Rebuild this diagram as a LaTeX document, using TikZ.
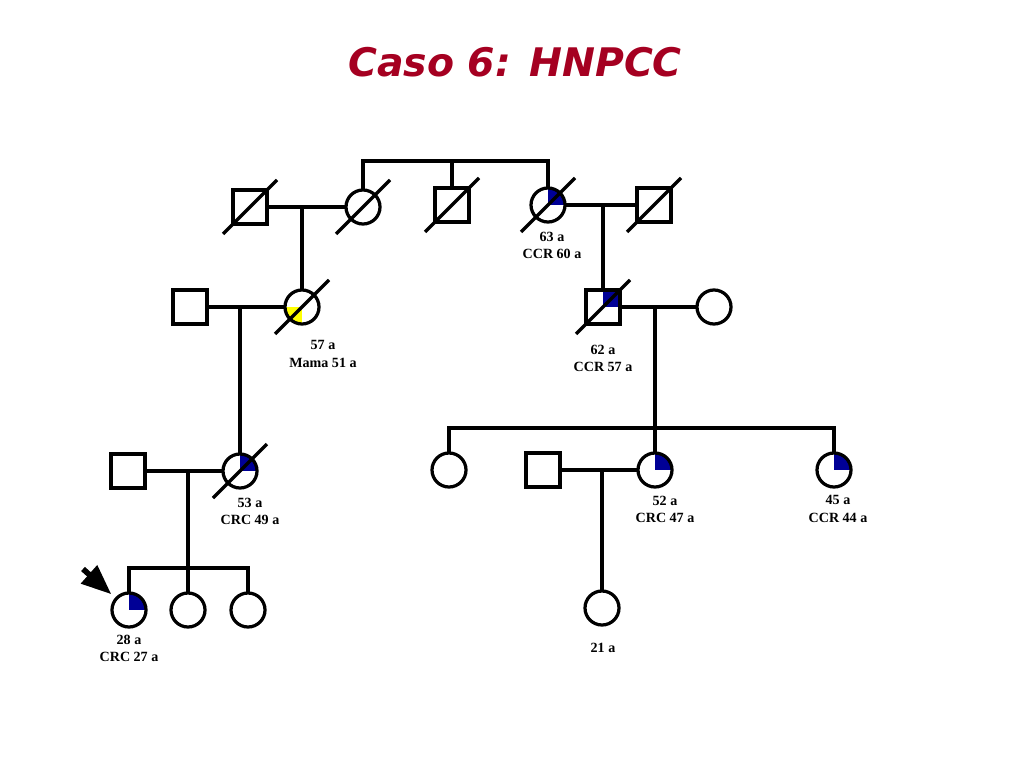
\documentclass[tikz,border=0pt]{standalone}
\usepackage{fontspec}
\setmainfont{Liberation Serif}
\newfontfamily\titlefont{DejaVu Sans}
\usetikzlibrary{arrows}
\definecolor{titlered}{RGB}{165,0,33}
\definecolor{ccrblue}{RGB}{0,0,150}
\definecolor{mamayellow}{RGB}{255,255,0}

\begin{document}
\begin{tikzpicture}
  [x=0.025cm,y=-0.025cm,line width=2.3pt,
   every node/.style={inner sep=0pt,outer sep=0pt},
   male/.style={rectangle,draw,minimum size=0.85cm},
   female/.style={circle,draw,minimum size=0.85cm},
   affected/.style={path picture={\fill[ccrblue] (path picture bounding box.center) rectangle (path picture bounding box.north east);}},
   mama/.style={path picture={\fill[mamayellow] (path picture bounding box.center) rectangle (path picture bounding box.south west);}},
   lbl/.style={align=center,font=\bfseries\fontsize{10}{12.2}\selectfont}]
  \fill[white] (0,0) rectangle (1024,768);
  \useasboundingbox (0,0) rectangle (1024,768);

  \node[font=\titlefont\bfseries\itshape\fontsize{28}{32}\selectfont,text=titlered] (title) at (515,62) {Caso 6: HNPCC};

  % generation I
  \node[male] (A) at (250,207) {};
  \node[female] (B) at (363,207) {};
  \node[male] (C) at (452,205) {};
  \node[female,affected] (D) at (548,205) {};
  \node[male] (E) at (654,205) {};
  \coordinate (sibI) at (452,161);
  \coordinate (mAB) at (302,207);
  \coordinate (mDE) at (603,205);

  % generation II
  \node[male] (F) at (190,307) {};
  \node[female,mama] (G) at (302,307) {};
  \node[male,affected] (H) at (603,307) {};
  \node[female] (I) at (714,307) {};
  \coordinate (mFG) at (240,307);
  \coordinate (mHI) at (655,307);

  % generation III
  \node[male] (O) at (128,471) {};
  \node[female,affected] (P) at (240,471) {};
  \node[female] (J) at (449,470) {};
  \node[male] (M) at (543,470) {};
  \node[female,affected] (K) at (655,470) {};
  \node[female,affected] (L) at (834,470) {};
  \coordinate (sibIII) at (655,428);
  \coordinate (mOP) at (188,471);
  \coordinate (mMK) at (602,470);

  % generation IV
  \node[female,affected] (Q) at (129,610) {};
  \node[female] (R) at (188,610) {};
  \node[female] (S) at (248,610) {};
  \node[female] (N) at (602,608) {};
  \coordinate (sibIV) at (188,568);
  \coordinate (arr) at (83,569);

  \draw (A) -- (B);
  \draw (B) |- (sibI) -| (D);
  \draw (sibI) -- (C);
  \draw (D) -- (E);
  \draw (mAB) -- (G);
  \draw (mDE) -- (H);
  \draw (F) -- (G);
  \draw (H) -- (I);
  \draw (mFG) -- (P);
  \draw (mHI) -- (K);
  \draw (J) |- (sibIII) -| (L);
  \draw (O) -- (P);
  \draw (M) -- (K);
  \draw (mOP) -- (R);
  \draw (Q) |- (sibIV) -| (S);
  \draw (mMK) -- (N);
  \draw[line width=4pt,shorten >=0.18cm,arrows={-triangle 45}] (arr) -- (Q);

  % deceased
  \foreach \n in {A,B,C,D,E,G,H,P}
    \draw ([shift={(-27,27)}]\n.center) -- ([shift={(27,-27)}]\n.center);

  \node[lbl] (tD) at (552,245) {63 a\\CCR 60 a};
  \node[lbl] (tG) at (323,354) {57 a\\Mama 51 a};
  \node[lbl] (tH) at (603,358) {62 a\\CCR 57 a};
  \node[lbl] (tP) at (250,511) {53 a\\CRC 49 a};
  \node[lbl] (tK) at (665,509) {52 a\\CRC 47 a};
  \node[lbl] (tL) at (838,509) {45 a\\CCR 44 a};
  \node[lbl] (tQ) at (129,648) {28 a\\CRC 27 a};
  \node[lbl] (tN) at (603,648) {21 a};
\end{tikzpicture}
\end{document}
